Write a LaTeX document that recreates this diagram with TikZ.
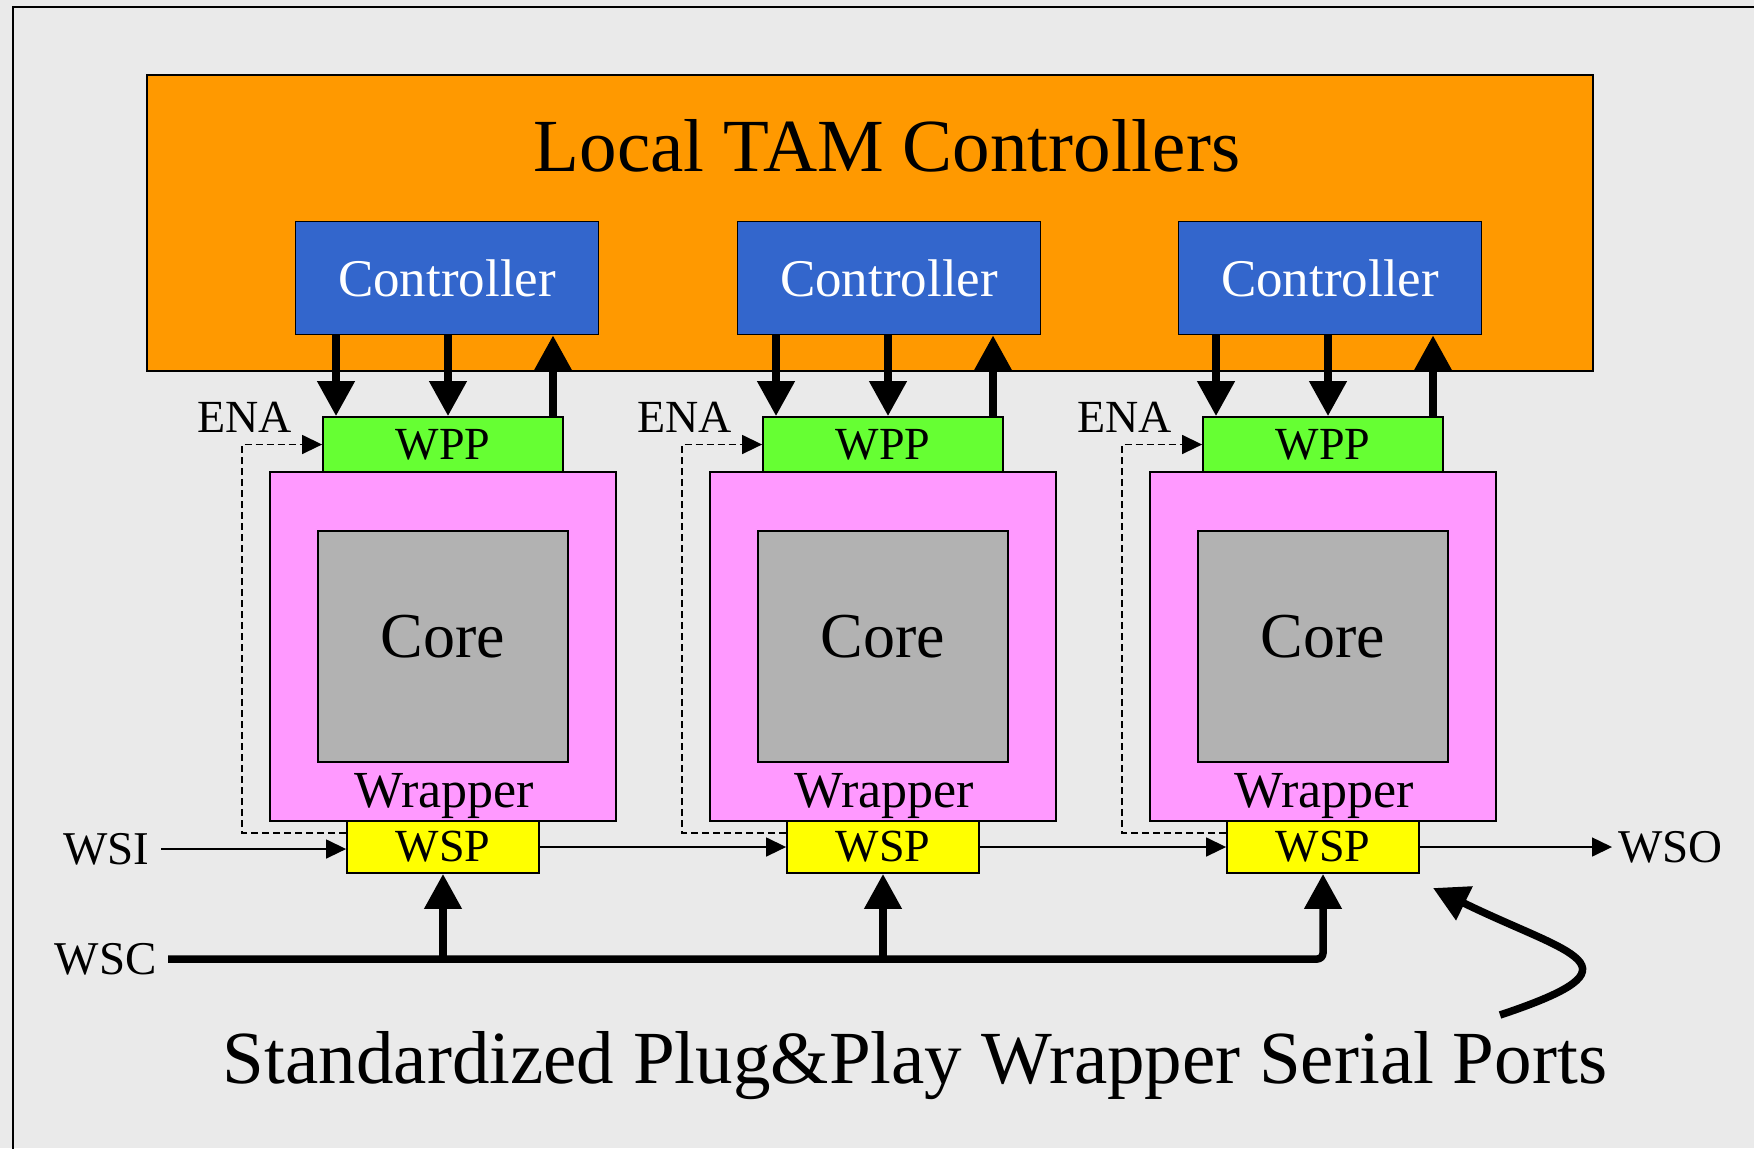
\documentclass[tikz,border=0pt]{standalone}
\usepackage{fontspec}
\setmainfont{Liberation Serif}
\usetikzlibrary{arrows.meta,calc}
\definecolor{bgray}{HTML}{EAEAEA}
\definecolor{tamorange}{HTML}{FF9900}
\definecolor{ctlblue}{HTML}{3366CC}
\definecolor{wppgreen}{HTML}{66FF33}
\definecolor{wrappink}{HTML}{FF99FF}
\definecolor{coregray}{HTML}{B2B2B2}
\definecolor{wspyellow}{HTML}{FFFF00}
\newcommand{\sz}[1]{\fontsize{#1}{#1}\selectfont}
\begin{document}
\begin{tikzpicture}[x=.5pt,y=-.5pt,
	box/.style={draw,line width=.9pt,inner sep=0pt},
	ctl/.style={box,fill=ctlblue,text=white,minimum width=151.5pt,minimum height=56.5pt,font=\sz{26.5pt}},
	wpp/.style={box,fill=wppgreen,minimum width=120pt,minimum height=27.5pt,font=\sz{23pt}},
	wrap/.style={box,fill=wrappink,minimum width=173pt,minimum height=174.5pt},
	core/.style={box,fill=coregray,minimum width=125pt,minimum height=115.5pt,font=\sz{32pt},text depth=10pt},
	wsp/.style={box,fill=wspyellow,minimum width=96pt,minimum height=26pt,font=\sz{23pt}},
	wlab/.style={anchor=base,inner sep=0pt,font=\sz{26pt}},
	ena/.style={anchor=base east,inner sep=0pt,font=\sz{23pt}},
	port/.style={inner xsep=5.5pt,inner ysep=0pt,font=\sz{23.5pt}},
	bus/.style={line width=3.75pt},
	busarr/.style={bus,-{Triangle[length=17.5pt,width=18pt]}},
	sig/.style={line width=.75pt,-{Triangle[length=10pt,width=9.5pt]}},
	enaline/.style={sig,dash pattern=on 3.5pt off 2pt}]
	\useasboundingbox[fill=bgray] (0,0) rectangle (1754,1148);
	\draw[line width=.9pt] (1760,7) -- (13,7) -- (13,1160);
	\node[box,fill=tamorange,minimum width=723pt,minimum height=148pt] (tam) at (870,223) {};
	\node[anchor=base,font=\sz{37.5pt}] (title) at (887,171) {Local TAM Controllers};

	\node[ctl] (ctl1) at (447,278) {Controller};
	\node[wrap] (wrap1) at (443,646.5) {};
	\node[core] (core1) at (443,646.5) {Core};
	\node[wlab] (wlab1) at (444,807) {Wrapper};
	\node[wpp] (wpp1) at (443,444.5) {WPP};
	\node[wsp] (wsp1) at (443,847) {WSP};
	\node[ena] (ena1) at (292,432) {ENA};

	\node[ctl] (ctl2) at (889,278) {Controller};
	\node[wrap] (wrap2) at (883,646.5) {};
	\node[core] (core2) at (883,646.5) {Core};
	\node[wlab] (wlab2) at (884,807) {Wrapper};
	\node[wpp] (wpp2) at (883,444.5) {WPP};
	\node[wsp] (wsp2) at (883,847) {WSP};
	\node[ena] (ena2) at (732,432) {ENA};

	\node[ctl] (ctl3) at (1330,278) {Controller};
	\node[wrap] (wrap3) at (1323,646.5) {};
	\node[core] (core3) at (1323,646.5) {Core};
	\node[wlab] (wlab3) at (1324,807) {Wrapper};
	\node[wpp] (wpp3) at (1323,444.5) {WPP};
	\node[wsp] (wsp3) at (1323,847) {WSP};
	\node[ena] (ena3) at (1172,432) {ENA};

	\node[port,anchor=east] (wsi) at (161,849) {WSI};
	\node[port,anchor=east] (wsc) at (168,959) {WSC};
	\node[port,inner xsep=3pt,anchor=west] (wso) at (1612,847) {WSO};
	\node[anchor=base,font=\sz{37.5pt}] (caption) at (915,1083) {Standardized Plug\&Play Wrapper Serial Ports};

	\draw[busarr] ([xshift=-53.5pt]wpp1.north |- ctl1.south) -- ([xshift=-53.5pt]wpp1.north);
	\draw[busarr] ([xshift=2.5pt]wpp1.north |- ctl1.south) -- ([xshift=2.5pt]wpp1.north);
	\draw[busarr] ([xshift=55pt]wpp1.north) -- ([xshift=55pt]wpp1.north |- ctl1.south);
	\draw[busarr] ([xshift=-53.5pt]wpp2.north |- ctl2.south) -- ([xshift=-53.5pt]wpp2.north);
	\draw[busarr] ([xshift=2.5pt]wpp2.north |- ctl2.south) -- ([xshift=2.5pt]wpp2.north);
	\draw[busarr] ([xshift=55pt]wpp2.north) -- ([xshift=55pt]wpp2.north |- ctl2.south);
	\draw[busarr] ([xshift=-53.5pt]wpp3.north |- ctl3.south) -- ([xshift=-53.5pt]wpp3.north);
	\draw[busarr] ([xshift=2.5pt]wpp3.north |- ctl3.south) -- ([xshift=2.5pt]wpp3.north);
	\draw[busarr] ([xshift=55pt]wpp3.north) -- ([xshift=55pt]wpp3.north |- ctl3.south);

	\draw[enaline] ($(wsp1.north west)+(0,13)$) -- ++(-104,0) |- (wpp1.west);
	\draw[enaline] ($(wsp2.north west)+(0,13)$) -- ++(-104,0) |- (wpp2.west);
	\draw[enaline] ($(wsp3.north west)+(0,13)$) -- ++(-104,0) |- (wpp3.west);

	\draw[sig] (wsi.east) -- (wsi.east -| wsp1.west);
	\draw[sig] (wsp1) -- (wsp2);
	\draw[sig] (wsp2) -- (wsp3);
	\draw[sig] (wsp3) -- (wso);

	\draw[busarr,rounded corners=3pt] (wsc.east) -| (wsp3.south);
	\draw[busarr] (wsc.east -| wsp1.south) -- (wsp1.south);
	\draw[busarr] (wsc.east -| wsp2.south) -- (wsp2.south);

	\coordinate (ptrend) at (1500,1015);
	\coordinate (ptrtip) at (1433,888);
	\draw[busarr] (ptrend) .. controls (1650,965) and (1570,955) .. (ptrtip);
\end{tikzpicture}
\end{document}
